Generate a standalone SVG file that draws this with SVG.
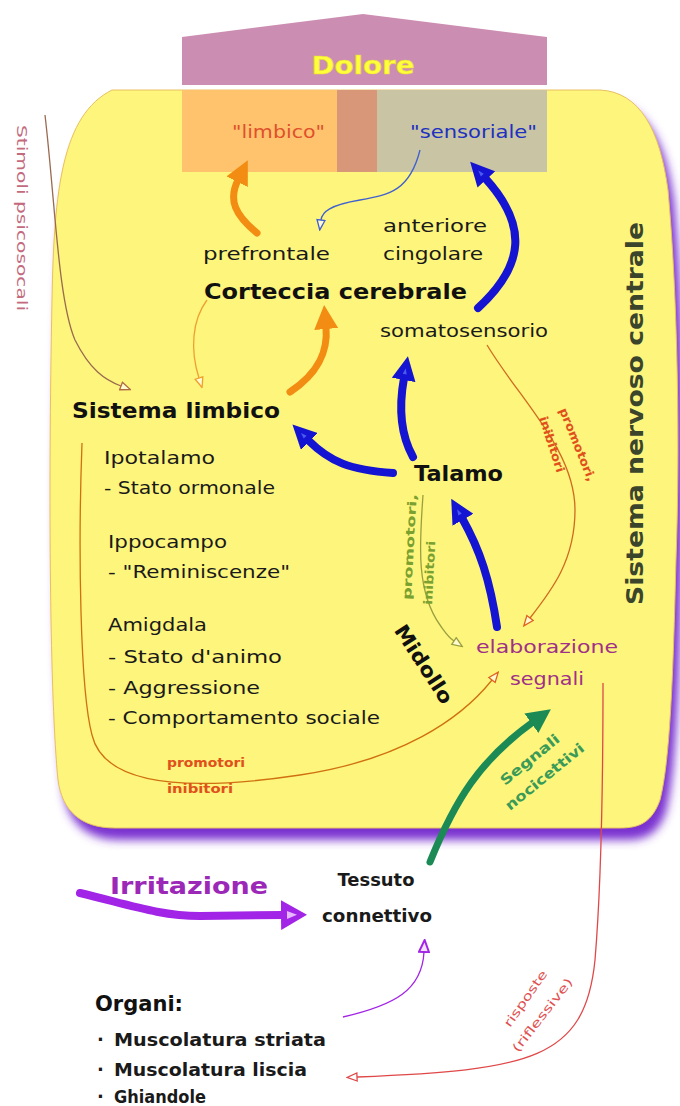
<svg xmlns="http://www.w3.org/2000/svg" width="680" height="1106" viewBox="0 0 680 1106">
<style>
  text { font-family: "DejaVu Sans", "Liberation Sans", sans-serif; }
  .t { fill: #1a1a1a; font-size: 18px; }
  .b { fill: #111; font-weight: bold; }
  .thin { fill: none; stroke-width: 1.3; }
  .thick { fill: none; stroke-linecap: round; }
</style>
<defs>
  <filter id="blur" x="-10%" y="-10%" width="120%" height="120%">
    <feGaussianBlur stdDeviation="5"/>
  </filter>
  <marker id="mOrange" markerUnits="userSpaceOnUse" viewBox="0 0 24 24" markerWidth="24" markerHeight="24" refX="2" refY="12" orient="auto">
    <path d="M0,0 L24,12 L0,24 z" fill="#f28c12"/>
  </marker>
  <marker id="mBlue" markerUnits="userSpaceOnUse" viewBox="0 0 24 24" markerWidth="24" markerHeight="24" refX="2" refY="12" orient="auto">
    <path d="M0,0 L24,12 L0,24 z" fill="#1414d2"/>
    <path d="M6,10 L12,12 L6,14 z" fill="#4a5cf0"/>
  </marker>
  <marker id="mGreen" markerUnits="userSpaceOnUse" viewBox="0 0 24 24" markerWidth="24" markerHeight="24" refX="2" refY="12" orient="auto">
    <path d="M0,0 L24,12 L0,24 z" fill="#1b8a55"/>
  </marker>
  <marker id="mPurple" markerUnits="userSpaceOnUse" viewBox="0 0 26 30" markerWidth="26" markerHeight="30" refX="2" refY="15" orient="auto">
    <path d="M0,0 L26,15 L0,30 z" fill="#a224e6"/>
    <path d="M6,11 L16,15 L6,19 z" fill="#e6b8ff"/>
  </marker>
  <marker id="hPurple" markerUnits="userSpaceOnUse" viewBox="0 0 14 12" markerWidth="14" markerHeight="12" refX="1" refY="6" orient="auto">
    <path d="M1,1 L13,6 L1,11 z" fill="#f3e0ff" stroke="#a224e6" stroke-width="2"/>
  </marker>
  <marker id="hBlue" markerUnits="userSpaceOnUse" viewBox="0 0 12 10" markerWidth="12" markerHeight="10" refX="1" refY="5" orient="auto">
    <path d="M1,1 L11,5 L1,9 z" fill="#fffbd0" stroke="#4060d0" stroke-width="1.3"/>
  </marker>
  <marker id="hBrown" markerUnits="userSpaceOnUse" viewBox="0 0 12 10" markerWidth="12" markerHeight="10" refX="1" refY="5" orient="auto">
    <path d="M1,1 L11,5 L1,9 z" fill="#fffbd0" stroke="#b06a40" stroke-width="1.3"/>
  </marker>
  <marker id="hOrange" markerUnits="userSpaceOnUse" viewBox="0 0 12 10" markerWidth="12" markerHeight="10" refX="1" refY="5" orient="auto">
    <path d="M1,1 L11,5 L1,9 z" fill="#fffbd0" stroke="#f0a030" stroke-width="1.3"/>
  </marker>
  <marker id="hRedOr" markerUnits="userSpaceOnUse" viewBox="0 0 12 10" markerWidth="12" markerHeight="10" refX="1" refY="5" orient="auto">
    <path d="M1,1 L11,5 L1,9 z" fill="#fffbd0" stroke="#e06020" stroke-width="1.3"/>
  </marker>
  <marker id="hOlive" markerUnits="userSpaceOnUse" viewBox="0 0 12 10" markerWidth="12" markerHeight="10" refX="1" refY="5" orient="auto">
    <path d="M1,1 L11,5 L1,9 z" fill="#fffbd0" stroke="#9aa040" stroke-width="1.3"/>
  </marker>
  <marker id="hRed" markerUnits="userSpaceOnUse" viewBox="0 0 12 10" markerWidth="12" markerHeight="10" refX="1" refY="5" orient="auto">
    <path d="M1,1 L11,5 L1,9 z" fill="#ffffff" stroke="#e04848" stroke-width="1.3"/>
  </marker>
  <path id="blobShape" d="M112,90 L600,90 C640,92 660,130 668,190 C678,300 680,450 676,560 C673,680 670,760 660,800 C652,822 640,828 620,828 L115,828 C80,828 62,810 58,780 C50,700 48,500 52,300 C54,190 62,115 112,90 Z"/>
</defs>

<rect x="0" y="0" width="680" height="1106" fill="#ffffff"/>

<g id="sistema-nervoso-centrale">
  <use href="#blobShape" fill="#7a30d0" transform="translate(6,12)" filter="url(#blur)"/>
  <use href="#blobShape" fill="#fdf57c" stroke="#e8c060" stroke-width="1"/>
  <text transform="translate(643,605) rotate(-90)" font-size="23" font-weight="600" fill="#3b452b" textLength="383" lengthAdjust="spacingAndGlyphs">Sistema nervoso centrale</text>
</g>

<g id="dolore">
  <path d="M182,37 L363,14 L547,37 L547,85 L182,85 Z" fill="#cc8db2"/>
  <text x="363" y="74" font-size="25" font-weight="bold" fill="#ffff3a" stroke="#e6d43a" stroke-width="0.6" text-anchor="middle" textLength="103" lengthAdjust="spacingAndGlyphs">Dolore</text>
  <rect x="182" y="90" width="155" height="82" fill="#ffc36e"/>
  <rect x="337" y="90" width="40" height="82" fill="#d9977a"/>
  <rect x="377" y="90" width="170" height="82" fill="#c8c4a4"/>
  <text x="232" y="138" font-size="17" fill="#e0502a" textLength="93" lengthAdjust="spacingAndGlyphs">"limbico"</text>
  <text x="410" y="138" font-size="17" fill="#2030c0" textLength="127" lengthAdjust="spacingAndGlyphs">"sensoriale"</text>
</g>

<g id="corteccia">
  <text class="t" x="203" y="260" textLength="127" lengthAdjust="spacingAndGlyphs">prefrontale</text>
  <text class="t" x="383" y="232" textLength="104" lengthAdjust="spacingAndGlyphs">anteriore</text>
  <text class="t" x="383" y="260" textLength="100" lengthAdjust="spacingAndGlyphs">cingolare</text>
  <text class="b" x="204" y="299" font-size="21" textLength="263" lengthAdjust="spacingAndGlyphs">Corteccia cerebrale</text>
  <text class="t" x="380" y="337" font-size="17" textLength="168" lengthAdjust="spacingAndGlyphs">somatosensorio</text>
</g>

<g id="sistema-limbico">
  <text class="b" x="72" y="418" font-size="21" textLength="208" lengthAdjust="spacingAndGlyphs">Sistema limbico</text>
  <text class="t" x="104" y="464" textLength="111" lengthAdjust="spacingAndGlyphs">Ipotalamo</text>
  <text class="t" x="104" y="494" textLength="171" lengthAdjust="spacingAndGlyphs">- Stato ormonale</text>
  <text class="t" x="108" y="548" textLength="119" lengthAdjust="spacingAndGlyphs">Ippocampo</text>
  <text class="t" x="108" y="578" textLength="182" lengthAdjust="spacingAndGlyphs">- "Reminiscenze"</text>
  <text class="t" x="108" y="631" textLength="99" lengthAdjust="spacingAndGlyphs">Amigdala</text>
  <text class="t" x="108" y="663" textLength="174" lengthAdjust="spacingAndGlyphs">- Stato d'animo</text>
  <text class="t" x="108" y="694" textLength="152" lengthAdjust="spacingAndGlyphs">- Aggressione</text>
  <text class="t" x="108" y="724" textLength="272" lengthAdjust="spacingAndGlyphs">- Comportamento sociale</text>
</g>

<g id="talamo">
  <text class="b" x="414" y="481" font-size="21" textLength="89" lengthAdjust="spacingAndGlyphs">Talamo</text>
</g>

<g id="midollo">
  <text class="b" font-size="20" text-anchor="middle" transform="translate(418,668) rotate(57)" textLength="90" lengthAdjust="spacingAndGlyphs">Midollo</text>
</g>

<g id="elaborazione-segnali">
  <text x="476" y="653" font-size="17" fill="#a03088" textLength="142" lengthAdjust="spacingAndGlyphs">elaborazione</text>
  <text x="510" y="685" font-size="17" fill="#a03088" textLength="74" lengthAdjust="spacingAndGlyphs">segnali</text>
</g>

<g id="tessuto-connettivo">
  <text class="t" x="376" y="886" font-size="20" font-weight="600" text-anchor="middle" textLength="77" lengthAdjust="spacingAndGlyphs">Tessuto</text>
  <text class="t" x="377" y="922" font-size="20" font-weight="600" text-anchor="middle" textLength="110" lengthAdjust="spacingAndGlyphs">connettivo</text>
</g>

<g id="irritazione">
  <text x="110" y="894" font-size="23" font-weight="bold" fill="#9c28b8" textLength="158" lengthAdjust="spacingAndGlyphs">Irritazione</text>
</g>

<g id="organi">
  <text class="b" x="95" y="1011" font-size="22" textLength="88" lengthAdjust="spacingAndGlyphs">Organi:</text>
  <text class="t" x="97" y="1046" font-size="17" font-weight="600">·</text>
  <text class="t" x="114" y="1046" font-size="17" font-weight="600" textLength="212" lengthAdjust="spacingAndGlyphs">Muscolatura striata</text>
  <text class="t" x="97" y="1076" font-size="17" font-weight="600">·</text>
  <text class="t" x="114" y="1076" font-size="17" font-weight="600" textLength="193" lengthAdjust="spacingAndGlyphs">Muscolatura liscia</text>
  <text class="t" x="97" y="1103" font-size="17" font-weight="600">·</text>
  <text class="t" x="114" y="1103" font-size="17" font-weight="600" textLength="92" lengthAdjust="spacingAndGlyphs">Ghiandole</text>
</g>

<g id="stimoli-psicosociali">
  <text transform="translate(17,125) rotate(90)" font-size="14" fill="#c46a7e" textLength="186" lengthAdjust="spacingAndGlyphs">Stimoli psicosocali</text>
</g>

<g id="connectors">
  <path class="thick" d="M257,233 C235,215 228,200 238,180" stroke="#f28c12" stroke-width="7" marker-end="url(#mOrange)"/>
  <path class="thick" d="M290,392 C320,372 328,350 326,327" stroke="#f28c12" stroke-width="7" marker-end="url(#mOrange)"/>
  <path class="thick" d="M478,308 C525,265 528,225 485,178" stroke="#1414d2" stroke-width="8" marker-end="url(#mBlue)"/>
  <path class="thick" d="M413,457 C398,430 400,400 404,378" stroke="#1414d2" stroke-width="8" marker-end="url(#mBlue)"/>
  <path class="thick" d="M393,473 C350,470 330,462 308,440" stroke="#1414d2" stroke-width="8" marker-end="url(#mBlue)"/>
  <path class="thick" d="M497,627 C490,580 480,550 462,518" stroke="#1414d2" stroke-width="8" marker-end="url(#mBlue)"/>
  <path class="thick" d="M430,862 C455,800 480,760 533,722" stroke="#1b8a55" stroke-width="7" marker-end="url(#mGreen)"/>
  <path class="thick" d="M80,893 C130,905 160,916 200,916 L283,915" stroke="#a224e6" stroke-width="8" marker-end="url(#mPurple)"/>
  <path class="thin" d="M343,1017 C395,1005 422,990 424,952" stroke="#a224e6" stroke-width="2.5" marker-end="url(#hPurple)"/>
  <path class="thin" d="M420,150 C410,190 390,195 360,200 C330,205 322,212 321,220" stroke="#4060d0" marker-end="url(#hBlue)"/>
  <path class="thin" d="M45,115 C55,200 58,300 75,340 C90,370 105,380 121,386" stroke="#9a6a50" marker-end="url(#hBrown)"/>
  <path class="thin" d="M207,300 C192,320 190,350 199,378" stroke="#f0a030" marker-end="url(#hOrange)"/>
  <path class="thin" d="M487,345 C520,400 575,450 575,510 C575,560 552,590 530,618" stroke="#d06a20" marker-end="url(#hRedOr)"/>
  <path class="thin" d="M423,495 C420,540 415,590 440,625 C445,632 448,637 454,641" stroke="#9aa040" marker-end="url(#hOlive)"/>
  <path class="thin" d="M82,443 C78,550 80,690 92,735 C105,790 200,790 300,775 C400,760 460,720 492,680" stroke="#d07010" marker-end="url(#hRedOr)"/>
  <path class="thin" d="M603,683 C603,800 600,900 595,960 C585,1060 530,1070 357,1077" stroke="#e04848" marker-end="url(#hRed)"/>
  <text transform="translate(559,410) rotate(68)" font-size="12" font-weight="bold" fill="#e0501a" textLength="78" lengthAdjust="spacingAndGlyphs">promotori,</text>
  <text transform="translate(539,418) rotate(72)" font-size="12" font-weight="bold" fill="#e0501a" textLength="58" lengthAdjust="spacingAndGlyphs">inibitori</text>
  <text transform="translate(411,600) rotate(-87)" font-size="12" font-weight="bold" fill="#7aa030" textLength="106" lengthAdjust="spacingAndGlyphs">promotori,</text>
  <text transform="translate(432,605) rotate(-87)" font-size="12" font-weight="bold" fill="#7aa030" textLength="64" lengthAdjust="spacingAndGlyphs">inibitori</text>
  <text x="167" y="767" font-size="12" font-weight="bold" fill="#e0501a" textLength="78" lengthAdjust="spacingAndGlyphs">promotori</text>
  <text x="167" y="793" font-size="12" font-weight="bold" fill="#e0501a" textLength="66" lengthAdjust="spacingAndGlyphs">inibitori</text>
  <text transform="translate(505,786) rotate(-39)" font-size="14" font-weight="bold" fill="#3a9a58" textLength="72" lengthAdjust="spacingAndGlyphs">Segnali</text>
  <text transform="translate(510,811) rotate(-39)" font-size="14" font-weight="bold" fill="#3a9a58" textLength="97" lengthAdjust="spacingAndGlyphs">nocicettivi</text>
  <text transform="translate(510,1028) rotate(-55)" font-size="12" fill="#e05050" textLength="66" lengthAdjust="spacingAndGlyphs">risposte</text>
  <text transform="translate(518,1053) rotate(-52)" font-size="12" fill="#e05050" textLength="90" lengthAdjust="spacingAndGlyphs">(riflessive)</text>
</g>
</svg>
